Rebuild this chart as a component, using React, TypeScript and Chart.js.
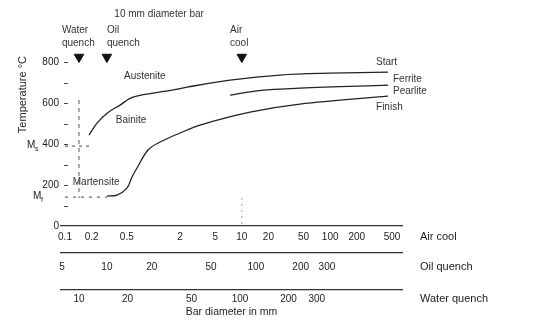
import React, { useEffect, useRef } from 'react';
import { Chart, registerables } from 'chart.js';

Chart.register(...registerables);

const FONT = '"Liberation Sans", Arial, Helvetica, sans-serif';
const INK = '#222';

// ---- Temperature axis (°C) ----
const tempTicks = [0, 100, 200, 300, 400, 500, 600, 700, 800];
const tempLabelled = [0, 200, 400, 600, 800];
const tempRange = [0, 830];

// ---- Bar diameter axes (mm) ----
const airCoolTicks = [0.1, 0.2, 0.5, 2, 5, 10, 20, 50, 100, 200, 500];
const oilQuenchTicks = [5, 10, 20, 50, 100, 200, 300];
const waterQuenchTicks = [10, 20, 50, 100, 200, 300];
const airCoolRange = [0.0901, 649];
const oilQuenchRange = [4.92, 957];
const waterQuenchRange = [7.73, 1014];

// ---- Transformation curves (x = air-cooled bar diameter, mm; y = °C) ----
const startDiameter = [0.187, 0.23, 0.299, 0.419, 0.587, 1.62, 2.4, 7.36, 27, 99.6, 451];
const startTemperature = [444, 502, 551, 590, 629, 663, 678, 712, 737, 746, 751];

const ferritePearliteDiameter = [7.36, 14.1, 45.5, 451];
const ferritePearliteTemperature = [639, 659, 673, 688];

const finishDiameter = [0.299, 0.387, 0.502, 0.573, 0.652, 0.869, 1.19, 2.0, 3.37, 12.4, 45.5, 451];
const finishTemperature = [146, 151, 185, 239, 283, 371, 410, 454, 493, 556, 595, 634];

const msTemperature = 390;
const msDiameter = [0.1, 0.187];
const mfTemperature = 141;
const mfDiameter = [0.1, 0.299];

// ---- 10 mm bar markers ----
const barDiameter = 10;
const markerTemperature = 825;
const waterBarLineTemps = [615, 137];
const airBarLineTemps = [137, 0];

// ---- Text annotations (in data units) ----
const regionLabels = [
  { text: 'Austenite', axis: 'x', x: 0.8, y: 732, align: 'center' },
  { text: 'Bainite', axis: 'x', x: 0.558, y: 518, align: 'center' },
  { text: 'Martensite', axis: 'x', x: 0.225, y: 215, align: 'center' },
  { text: 'Start', axis: 'x', x: 330, y: 801, align: 'left' },
  { text: 'Ferrite', axis: 'x', x: 513, y: 718, align: 'left' },
  { text: 'Pearlite', axis: 'x', x: 513, y: 659, align: 'left' },
  { text: 'Finish', axis: 'x', x: 330, y: 581, align: 'left' },
];
const topLabels = [
  { text: '10 mm diameter bar', axis: 'x', x: 1.16, y: 1035, align: 'center' },
  { text: 'Water', axis: 'xWater', x: 7.83, y: 957, align: 'left' },
  { text: 'quench', axis: 'xWater', x: 7.83, y: 894, align: 'left' },
  { text: 'Oil', axis: 'xOil', x: 10, y: 957, align: 'left' },
  { text: 'quench', axis: 'xOil', x: 10, y: 894, align: 'left' },
  { text: 'Air', axis: 'x', x: 7.36, y: 957, align: 'left' },
  { text: 'cool', axis: 'x', x: 7.36, y: 894, align: 'left' },
];
const axisNames = [
  { axis: 'x', text: 'Air cool', pad: 5 },
  { axis: 'xOil', text: 'Oil quench', pad: 8 },
  { axis: 'xWater', text: 'Water quench', pad: 3 },
];

const pts = (xs: number[], ys: number[]) => xs.map((x, i) => ({ x, y: ys[i] }));

const annotationPlugin = {
  id: 'cctAnnotations',
  afterDraw(chart: any) {
    const { ctx, chartArea, scales } = chart;
    const ys = scales.y;
    ctx.save();
    // small temperature tick dashes inside the axis
    ctx.strokeStyle = '#444';
    ctx.lineWidth = 1;
    tempTicks.forEach((t) => {
      if (t === 0) return;
      const py = Math.round(ys.getPixelForValue(t)) + 0.5;
      ctx.beginPath();
      ctx.moveTo(chartArea.left + 3, py);
      ctx.lineTo(chartArea.left + 7, py);
      ctx.stroke();
    });

    ctx.textBaseline = 'middle';
    ctx.font = `10px ${FONT}`;
    ctx.fillStyle = '#333';
    [...regionLabels, ...topLabels].forEach((l) => {
      const px = scales[l.axis].getPixelForValue(l.x);
      const py = ys.getPixelForValue(l.y);
      ctx.textAlign = l.align;
      ctx.fillText(l.text, px, py);
    });

    // Ms / Mf labels
    const drawM = (sub: string, temp: number, left: number) => {
      const py = ys.getPixelForValue(temp) - 1;
      ctx.textAlign = 'left';
      ctx.font = `10px ${FONT}`;
      ctx.fillStyle = INK;
      ctx.fillText('M', left, py);
      ctx.font = `7px ${FONT}`;
      ctx.fillText(sub, left + 8, py + 4);
    };
    drawM('s', msTemperature, chartArea.left - 34);
    drawM('f', mfTemperature, chartArea.left - 28);

    // axis names to the right
    ctx.font = `11px ${FONT}`;
    ctx.fillStyle = INK;
    ctx.textAlign = 'left';
    axisNames.forEach((a) => {
      const s = scales[a.axis];
      ctx.fillText(a.text, chartArea.right + 18, s.top + a.pad + 6);
    });
    ctx.restore();
  },
};

const logAxis = (ticks: number[], range: number[], weight: number, height: number, pad: number, extra: any = {}) => ({
  type: 'logarithmic',
  position: 'bottom',
  weight,
  min: range[0],
  max: range[1],
  afterBuildTicks: (s: any) => {
    s.ticks = ticks.map((v) => ({ value: v }));
  },
  afterFit: (s: any) => {
    s.height = height;
  },
  ticks: {
    autoSkip: false,
    maxRotation: 0,
    minRotation: 0,
    padding: pad,
    color: INK,
    font: { family: FONT, size: 10 },
    callback: (v: any) => String(v),
  },
  grid: { display: true, drawOnChartArea: false, drawTicks: false },
  border: { display: true, color: '#333', width: 1.2 },
  ...extra,
});

export default function App() {
  const ref = useRef<HTMLCanvasElement | null>(null);

  useEffect(() => {
    if (!ref.current) return;
    const curve = (xs: number[], ys: number[]) => ({
      data: pts(xs, ys),
      borderColor: INK,
      borderWidth: 1.3,
      pointRadius: 0,
      tension: 0.35,
      xAxisID: 'x',
      yAxisID: 'y',
    });
    const marker = (axis: string) => ({
      data: [{ x: barDiameter, y: markerTemperature }],
      xAxisID: axis,
      yAxisID: 'y',
      showLine: false,
      pointStyle: 'triangle',
      pointRotation: 180,
      pointRadius: 5.5,
      pointBackgroundColor: '#111',
      pointBorderColor: '#111',
      clip: false,
    });
    const chart = new Chart(ref.current, {
      type: 'line',
      data: {
        datasets: [
          curve(startDiameter, startTemperature),
          curve(ferritePearliteDiameter, ferritePearliteTemperature),
          curve(finishDiameter, finishTemperature),
          {
            data: msDiameter.map((x) => ({ x, y: msTemperature })),
            borderColor: '#444', borderWidth: 1, borderDash: [3, 4], pointRadius: 0, xAxisID: 'x', yAxisID: 'y',
          },
          {
            data: mfDiameter.map((x) => ({ x, y: mfTemperature })),
            borderColor: '#444', borderWidth: 1, borderDash: [3, 5], pointRadius: 0, xAxisID: 'x', yAxisID: 'y',
          },
          {
            data: waterBarLineTemps.map((y) => ({ x: barDiameter, y })),
            borderColor: '#555', borderWidth: 1, borderDash: [4, 4], pointRadius: 0, xAxisID: 'xWater', yAxisID: 'y',
          },
          {
            data: airBarLineTemps.map((y) => ({ x: barDiameter, y })),
            borderColor: '#999', borderWidth: 1, borderDash: [2, 4], pointRadius: 0, xAxisID: 'x', yAxisID: 'y',
          },
          marker('xWater'),
          marker('xOil'),
          marker('x'),
        ],
      } as any,
      options: {
        animation: false,
        responsive: true,
        maintainAspectRatio: false,
        events: [],
        layout: { padding: { left: 0, right: 157, top: 56, bottom: 0 } },
        plugins: { legend: { display: false }, tooltip: { enabled: false } },
        scales: {
          x: logAxis(airCoolTicks, airCoolRange, 0, 27, 5),
          xOil: logAxis(oilQuenchTicks, oilQuenchRange, 1, 37, 8),
          xWater: logAxis(waterQuenchTicks, waterQuenchRange, 2, 32, 3, {
            title: {
              display: true,
              text: 'Bar diameter in mm',
              color: INK,
              font: { family: FONT, size: 10.5 },
              padding: { top: 0, bottom: 4 },
            },
          }),
          y: {
            type: 'linear',
            position: 'left',
            min: tempRange[0],
            max: tempRange[1],
            afterBuildTicks: (s: any) => {
              s.ticks = tempTicks.map((v) => ({ value: v }));
            },
            afterFit: (s: any) => {
              s.width = 61;
            },
            ticks: {
              padding: 2,
              color: INK,
              font: { family: FONT, size: 10 },
              callback: (v: any) => (tempLabelled.includes(v) ? String(v) : ''),
            },
            grid: { display: true, drawOnChartArea: false, drawTicks: false },
            border: { display: false },
            title: {
              display: true,
              text: 'Temperature °C',
              align: 'end',
              color: INK,
              font: { family: FONT, size: 11 },
              padding: { top: 16, bottom: 0 },
            },
          },
        },
      } as any,
      plugins: [annotationPlugin],
    });
    return () => chart.destroy();
  }, []);

  return (
    <div style={{ position: 'absolute', left: 0, top: 0, width: 559, height: 322, background: '#fff' }}>
      <canvas ref={ref} />
    </div>
  );
}
